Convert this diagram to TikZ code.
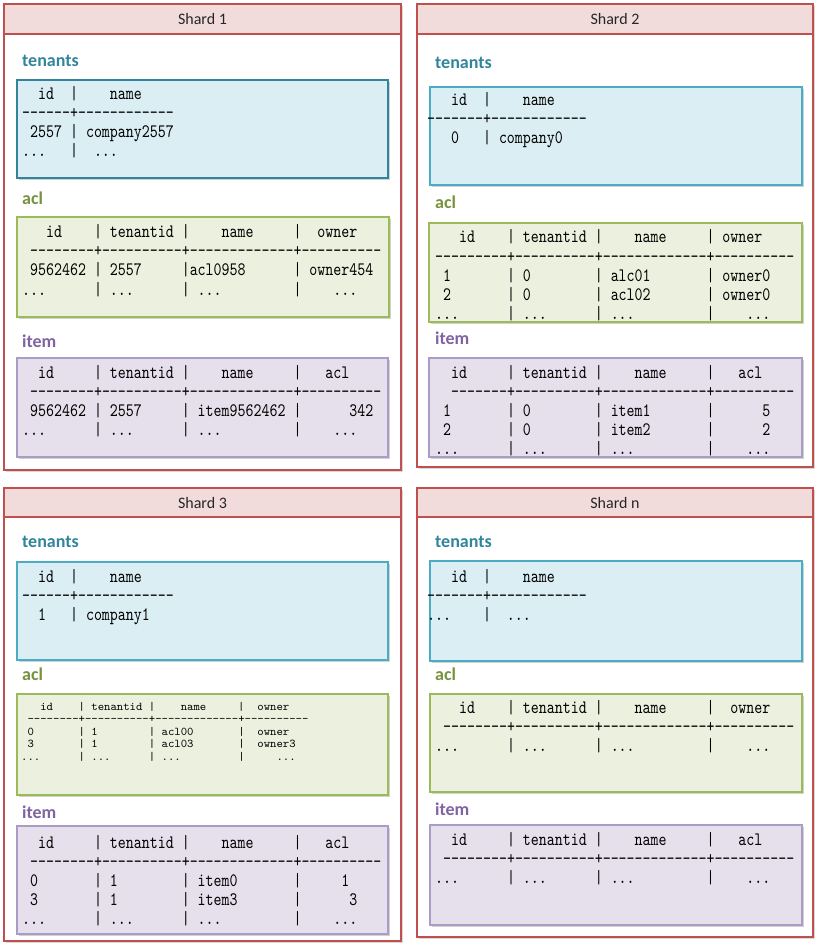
\documentclass[tikz,border=0pt]{standalone}
\usepackage{fontspec}
\usepackage{graphicx}
\setmonofont{lmmono10-regular.otf}[FakeStretch=0.8]
\newfontfamily\carlito{Carlito}
\usetikzlibrary{shadows}
\definecolor{shardred}{HTML}{C0504D}
\definecolor{hdrpink}{HTML}{F2DCDB}
\definecolor{tendark}{HTML}{31849B}
\definecolor{tenlight}{HTML}{4BACC6}
\definecolor{tenfill}{HTML}{DAEEF3}
\definecolor{aclline}{HTML}{9BBB59}
\definecolor{aclfill}{HTML}{EBF1DE}
\definecolor{itemline}{HTML}{AB9CC5}
\definecolor{itemfill}{HTML}{E5E0EC}
\definecolor{tenlbl}{HTML}{31859C}
\definecolor{acllbl}{HTML}{76923C}
\definecolor{itemlbl}{HTML}{8064A2}
\newcommand\tabtext{\ttfamily\fontsize{19}{19}\selectfont\def~{\hphantom{0}}}
\newcommand\tabsmall{\ttfamily\fontsize{15.2}{12.5}\selectfont\def~{\hphantom{0}}}
\newcommand\dd{...}
\newcommand\tabrows[6]{%
  \foreach \ln [count=\i from 0] in {#6} {\node[#2] (#1-\i) at (#3,{#4+\i*#5}) {\ln};}}
\newcommand\smallrows[5]{%
  \foreach \ln [count=\i from 0] in {#5} {\node[srow] (#1-\i) at (#2,{#3+\i*#4}) {\scalebox{1}[0.78]{\ln}};}}
\newcommand\lbl[5]{\node[lbltxt, text=#4] (#1) at (#2,#3) {#5};}
\tikzset{
  x=1pt, y=-1pt,
  shardbox/.style={draw=shardred, line width=2.6pt, fill=white,
    drop shadow={shadow xshift=2pt, shadow yshift=-2pt, opacity=0.3}},
  hdrbox/.style={draw=shardred, line width=2.6pt, fill=hdrpink},
  tbox/.style={line width=2.3pt,
    drop shadow={shadow xshift=2pt, shadow yshift=-2pt, opacity=0.35}},
  tenbox/.style={tbox, draw=tenlight, fill=tenfill},
  aclbox/.style={tbox, draw=aclline, fill=aclfill},
  itembox/.style={tbox, draw=itemline, fill=itemfill},
  row/.style={anchor=base west, inner sep=0pt, font=\tabtext},
  srow/.style={anchor=base west, inner sep=0pt, font=\tabsmall},
  htxt/.style={inner sep=0pt, font=\carlito\fontsize{16}{16}\selectfont, text=black!85},
  lbltxt/.style={anchor=base west, inner sep=0pt, font=\carlito\bfseries\fontsize{18}{18}\selectfont},
}
\begin{document}
\begin{tikzpicture}
\useasboundingbox (0,0) rectangle (824,949);
\fill[white] (0,0) rectangle (824,949);

% ---------------- Shard 1 ----------------
\path[shardbox] (4,4) rectangle (401,470);
\path[hdrbox] (4,4) rectangle (401,34);
\node[htxt] (s1h) at (202.5,19.5) {Shard 1};
\lbl{s1tl}{22}{67}{tenlbl}{tenants}
\path[tenbox, draw=tendark] (17,80) rectangle (388,178);
\tabrows{s1t}{row}{22}{100}{19}{~~id~~|~~~~name,------+------------,~2557~|~company2557,\dd~~~|~~\dd}
\lbl{s1al}{22}{205}{acllbl}{acl}
\path[aclbox] (17,217) rectangle (389,317);
\tabrows{s1a}{row}{22}{238}{19}{~~~id~~~~|~tenantid~|~~~~name~~~~~|~~owner,~--------+----------+-------------+----------,~9562462~|~2557~~~~~|acl0958~~~~~~|~owner454,\dd~~~~~~|~\dd~~~~~~|~\dd~~~~~~~~~|~~~~\dd}
\lbl{s1il}{22}{347}{itemlbl}{item}
\path[itembox] (17,358) rectangle (388,457);
\tabrows{s1i}{row}{22}{378}{19}{~~id~~~~~|~tenantid~|~~~~name~~~~~|~~~acl,~--------+----------+-------------+----------,~9562462~|~2557~~~~~|~item9562462~|~~~~~~342,\dd~~~~~~|~\dd~~~~~~|~\dd~~~~~~~~~|~~~~\dd}

% ---------------- Shard 2 ----------------
\path[shardbox] (417,4) rectangle (813,467);
\path[hdrbox] (417,4) rectangle (813,34);
\node[htxt] (s2h) at (615,19.5) {Shard 2};
\lbl{s2tl}{435}{69}{tenlbl}{tenants}
\path[tenbox] (430,87) rectangle (802,185);
\tabrows{s2t}{row}{427}{106}{19}{~~~id~~|~~~~name,-------+------------,~~~0~~~|~company0}
\lbl{s2al}{435}{209}{acllbl}{acl}
\path[aclbox] (429,223) rectangle (802,322);
\tabrows{s2a}{row}{435}{243}{19}{~~~id~~~~|~tenantid~|~~~~name~~~~~|~owner,---------+----------+-------------+----------,~1~~~~~~~|~0~~~~~~~~|~alc01~~~~~~~|~owner0,~2~~~~~~~|~0~~~~~~~~|~acl02~~~~~~~|~owner0,\dd~~~~~~|~\dd~~~~~~|~\dd~~~~~~~~~|~~~~\dd}
\lbl{s2il}{435}{344}{itemlbl}{item}
\path[itembox] (429,358) rectangle (802,457);
\tabrows{s2i}{row}{435}{378}{19}{~~id~~~~~|~tenantid~|~~~~name~~~~~|~~~acl,~~-------+----------+-------------+----------,~1~~~~~~~|~0~~~~~~~~|~item1~~~~~~~|~~~~~~5,~2~~~~~~~|~0~~~~~~~~|~item2~~~~~~~|~~~~~~2,\dd~~~~~~|~\dd~~~~~~|~\dd~~~~~~~~~|~~~~\dd}

% ---------------- Shard 3 ----------------
\path[shardbox] (4,488) rectangle (401,941);
\path[hdrbox] (4,488) rectangle (401,517);
\node[htxt] (s3h) at (202.5,502.5) {Shard 3};
\lbl{s3tl}{22}{547}{tenlbl}{tenants}
\path[tenbox] (17,562) rectangle (388,660);
\tabrows{s3t}{row}{22}{582}{19}{~~id~~|~~~~name,------+------------,~~1~~~|~company1}
\lbl{s3al}{22}{680}{acllbl}{acl}
\path[aclbox] (17,694) rectangle (388,795);
\smallrows{s3a}{21}{710}{12.5}{~~~id~~~~|~tenantid~|~~~~name~~~~~|~~owner,~--------+----------+-------------+----------,~0~~~~~~~|~1~~~~~~~~|~acl00~~~~~~~|~~owner,~3~~~~~~~|~1~~~~~~~~|~acl03~~~~~~~|~~owner3,\dd~~~~~~|~\dd~~~~~~|~\dd~~~~~~~~~|~~~~~\dd}
\lbl{s3il}{22}{818}{itemlbl}{item}
\path[itembox] (17,826) rectangle (388,934);
\tabrows{s3i}{row}{22}{848}{19}{~~id~~~~~|~tenantid~|~~~~name~~~~~|~~~acl,~--------+----------+-------------+----------,~0~~~~~~~|~1~~~~~~~~|~item0~~~~~~~|~~~~~1,~3~~~~~~~|~1~~~~~~~~|~item3~~~~~~~|~~~~~~3,\dd~~~~~~|~\dd~~~~~~|~\dd~~~~~~~~~|~~~~\dd}

% ---------------- Shard n ----------------
\path[shardbox] (417,488) rectangle (813,937);
\path[hdrbox] (417,488) rectangle (813,517);
\node[htxt] (snh) at (615,502.5) {Shard n};
\lbl{sntl}{435}{547}{tenlbl}{tenants}
\path[tenbox] (430,561) rectangle (802,661);
\tabrows{snt}{row}{427}{582}{19}{~~~id~~|~~~~name,-------+------------,\dd~~~~|~~\dd}
\lbl{snal}{435}{680}{acllbl}{acl}
\path[aclbox] (430,694) rectangle (802,792);
\tabrows{sna}{row}{435}{713}{19}{~~~id~~~~|~tenantid~|~~~~name~~~~~|~~owner,~--------+----------+-------------+----------,\dd~~~~~~|~\dd~~~~~~|~\dd~~~~~~~~~|~~~~\dd}
\lbl{snil}{435}{815}{itemlbl}{item}
\path[itembox] (430,825) rectangle (802,925);
\tabrows{sni}{row}{435}{845}{19}{~~id~~~~~|~tenantid~|~~~~name~~~~~|~~~acl,~--------+----------+-------------+----------,\dd~~~~~~|~\dd~~~~~~|~\dd~~~~~~~~~|~~~~\dd}
\end{tikzpicture}
\end{document}
